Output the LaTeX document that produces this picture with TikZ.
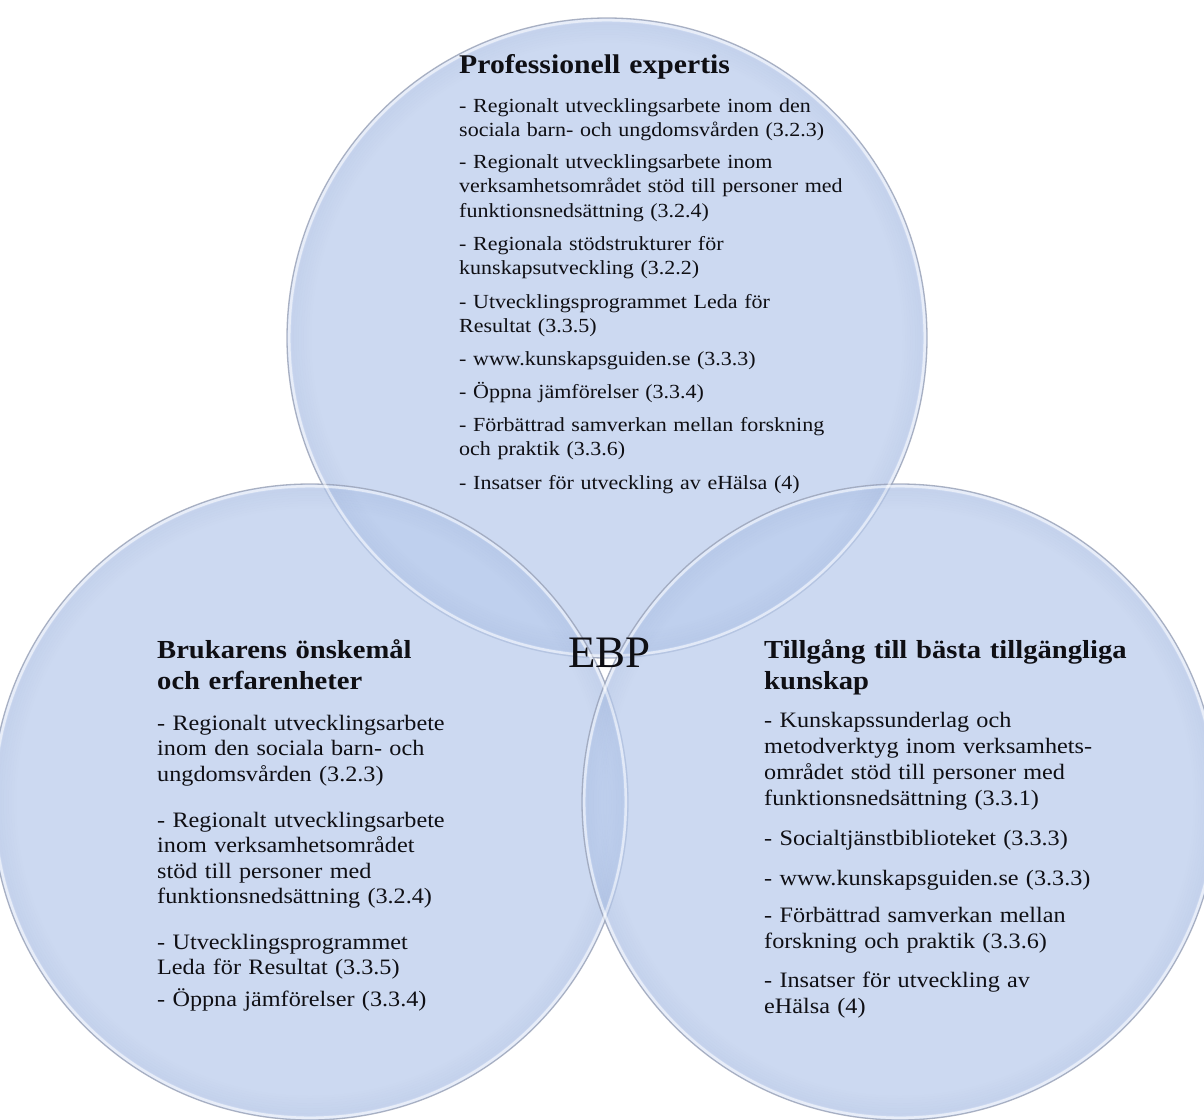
\documentclass[tikz,border=0pt]{standalone}
\usepackage{fontspec}
\setmainfont{Liberation Serif}[FakeStretch=1.1]
\newfontfamily\ebpfont{Liberation Serif}
\definecolor{circfill}{RGB}{187,205,237}
\definecolor{rimcol}{RGB}{130,150,195}
\definecolor{edgecol}{RGB}{158,166,186}
\definecolor{txtcol}{RGB}{15,15,20}
\begin{document}
\begin{tikzpicture}[x=1pt,y=-1pt,
  circ/.style={circle, inner sep=0pt, minimum size=#1, fill=circfill, fill opacity=0.74, draw=edgecol, draw opacity=0.85, line width=1.3pt},
  ttltop/.style={anchor=base west, inner sep=0pt, align=left, text width=460pt, text=txtcol, font=\fontsize{27}{31}\selectfont\bfseries},
  ttlbot/.style={anchor=base west, inner sep=0pt, align=left, text width=460pt, text=txtcol, font=\fontsize{26}{31}\selectfont\bfseries},
  bodytop/.style={anchor=base west, inner sep=0pt, align=left, text width=460pt, text=txtcol, font=\fontsize{20}{24.5}\selectfont},
  bodyleft/.style={anchor=base west, inner sep=0pt, align=left, text width=460pt, text=txtcol, font=\fontsize{22}{25.5}\selectfont},
  bodyright/.style={anchor=base west, inner sep=0pt, align=left, text width=460pt, text=txtcol, font=\fontsize{22}{26}\selectfont}
]
\useasboundingbox (0,0) rectangle (1204,1119);
\fill[white] (0,0) rectangle (1204,1119);

% circles
\node[circ=640pt] (ctop) at (607,338) {};
\node[circ=636pt] (cleft) at (310,802) {};
\node[circ=636pt] (cright) at (900,802) {};

% soft rims: white highlight just inside the edge, then a faint darker band
\foreach \c/\r in {ctop/320, cleft/318, cright/318}{
  \draw[white, line width=2.5pt, draw opacity=0.55] (\c.center) circle[radius=\r pt-2.2pt];
  \foreach \k [evaluate=\k as \op using 0.012*(9-\k)] in {1,...,8}{
    \draw[rimcol, line width=2.5pt, draw opacity=\op] (\c.center) circle[radius=\r pt-\k*2.5pt-3pt];
  }
}

% top circle text
\node[ttltop] (ttop) at (459,73) {Professionell expertis};
\node[bodytop] (t1) at (459,112) {- Regionalt utvecklingsarbete inom den\\sociala barn- och ungdomsvården (3.2.3)};
\node[bodytop] (t2) at (459,168) {- Regionalt utvecklingsarbete inom\\verksamhetsområdet stöd till personer med\\funktionsnedsättning (3.2.4)};
\node[bodytop] (t3) at (459,250) {- Regionala stödstrukturer för\\kunskapsutveckling (3.2.2)};
\node[bodytop] (t4) at (459,308) {- Utvecklingsprogrammet Leda för\\Resultat (3.3.5)};
\node[bodytop] (t5) at (459,365) {- www.kunskapsguiden.se (3.3.3)};
\node[bodytop] (t6) at (459,398) {- Öppna jämförelser (3.3.4)};
\node[bodytop] (t7) at (459,431) {- Förbättrad samverkan mellan forskning\\och praktik (3.3.6)};
\node[bodytop] (t8) at (459,489) {- Insatser för utveckling av eHälsa (4)};

% left circle text
\node[ttlbot] (tleft) at (157,658) {Brukarens önskemål\\och erfarenheter};
\node[bodyleft] (l1) at (157,730) {- Regionalt utvecklingsarbete\\inom den sociala barn- och\\ungdomsvården (3.2.3)};
\node[bodyleft] (l2) at (157,827) {- Regionalt utvecklingsarbete\\inom verksamhetsområdet\\stöd till personer med\\funktionsnedsättning (3.2.4)};
\node[bodyleft] (l3) at (157,949) {- Utvecklingsprogrammet\\Leda för Resultat (3.3.5)};
\node[bodyleft] (l4) at (157,1006) {- Öppna jämförelser (3.3.4)};

% right circle text
\node[ttlbot] (tright) at (764,658) {Tillgång till bästa tillgängliga\\kunskap};
\node[bodyright] (r1) at (764,727) {- Kunskapssunderlag och\\metodverktyg inom verksamhets-\\området stöd till personer med\\funktionsnedsättning (3.3.1)};
\node[bodyright] (r2) at (764,845) {- Socialtjänstbiblioteket (3.3.3)};
\node[bodyright] (r3) at (764,885) {- www.kunskapsguiden.se (3.3.3)};
\node[bodyright] (r4) at (764,922) {- Förbättrad samverkan mellan\\forskning och praktik (3.3.6)};
\node[bodyright] (r5) at (764,987) {- Insatser för utveckling av\\eHälsa (4)};

% centre
\node[anchor=base west, inner sep=0pt, text=txtcol, font=\ebpfont\fontsize{45}{50}\selectfont] (ebp) at (568,667) {EBP};
\end{tikzpicture}
\end{document}
